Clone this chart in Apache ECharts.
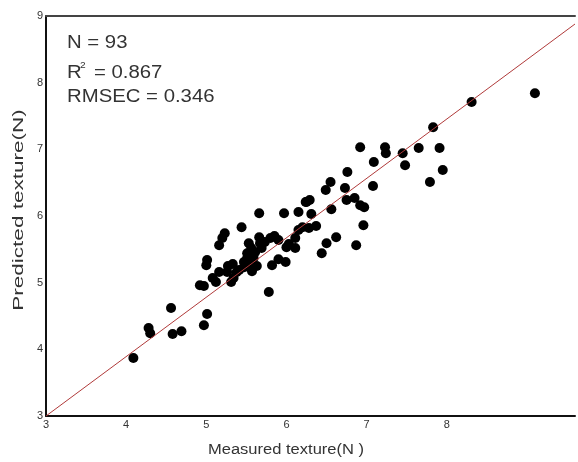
<!DOCTYPE html>
<html>
<head>
<meta charset="utf-8">
<script src="https://cdn.jsdelivr.net/npm/echarts@6/dist/echarts.min.js"></script>
<style>
  html, body { margin: 0; padding: 0; background: #fff; }
  #chart { width: 578px; height: 462px; }
</style>
</head>
<body>
<div id="chart"></div>
<script>
// measured (x) vs predicted (y) texture
var measured = [
  4.09, 4.28, 4.30, 4.56, 4.58, 4.69, 5.01, 4.97, 4.92, 4.97,
  5.12, 5.01, 5.00, 5.16, 5.27, 5.16, 5.20, 5.23, 5.44, 5.66,
  5.97, 6.15, 6.24, 5.53, 5.56, 5.51, 5.66, 5.67, 5.80, 5.90,
  5.41, 5.47, 5.56, 5.59, 5.31, 5.34, 5.57, 5.78, 5.82, 5.90,
  5.99, 6.00, 6.11, 6.11, 6.31, 6.20, 6.28, 6.37, 6.62, 6.50,
  6.44, 6.87, 6.29, 6.55, 6.49, 6.73, 6.75, 6.85, 6.92, 6.97,
  6.56, 6.96, 6.76, 7.08, 7.09, 6.92, 7.23, 7.24, 7.45, 7.48,
  7.65, 7.91, 7.95, 7.79, 7.83, 8.31, 9.10, 6.25, 5.47, 5.51,
  5.53, 5.38, 5.61, 5.69, 5.26, 5.73, 5.85, 5.63, 6.03, 5.33,
  6.15, 5.08, 5.57
];
var predicted = [
  3.87, 4.32, 4.24, 4.62, 4.23, 4.27, 4.53, 4.36, 4.96, 4.95,
  5.01, 5.34, 5.26, 5.16, 5.25, 5.56, 5.67, 5.74, 5.83, 6.04,
  6.04, 6.06, 6.21, 5.59, 5.52, 5.44, 5.68, 5.59, 5.67, 5.64,
  5.19, 5.23, 5.29, 5.37, 5.01, 5.07, 5.17, 4.86, 5.26, 5.35,
  5.31, 5.53, 5.52, 5.67, 6.03, 5.83, 5.82, 5.85, 5.68, 5.59,
  5.44, 5.56, 6.24, 6.51, 6.39, 6.42, 6.24, 6.27, 6.16, 6.13,
  6.10, 5.86, 6.66, 6.45, 6.81, 7.03, 7.03, 6.94, 6.94, 6.76,
  7.02, 7.02, 6.69, 6.51, 7.33, 7.71, 7.84, 6.21, 5.31, 5.37,
  5.25, 5.16, 5.46, 5.52, 5.16, 5.61, 5.70, 5.25, 5.58, 5.28,
  5.79, 5.07, 5.40
];
// fitted line end points
var fitX = [3, 9.6];
var fitY = [3, 8.88];
var xTicks = [3, 4, 5, 6, 7, 8];

var points = measured.map(function (v, i) { return [v, predicted[i]]; });
var fitLine = fitX.map(function (v, i) { return [v, fitY[i]]; });

var font = "'Liberation Sans', Arial, sans-serif";
var chart = echarts.init(document.getElementById('chart'));
chart.setOption({
  animation: false,
  grid: { left: 46, right: 0, top: 16, bottom: 46 },
  xAxis: [
    {
      type: 'value', min: 3, max: 9.6, interval: 1,
      axisLine: { show: true, lineStyle: { color: '#111', width: 2 } },
      axisTick: { show: false },
      splitLine: { show: false },
      axisLabel: {
        color: '#333', fontSize: 11, fontFamily: font, margin: 3,
        formatter: function (v) { return xTicks.indexOf(v) >= 0 ? String(v) : ''; }
      }
    },
    {
      type: 'value', position: 'top', min: 3, max: 9.6,
      axisLine: { show: true, onZero: false, lineStyle: { color: '#444', width: 2 } },
      axisTick: { show: false }, axisLabel: { show: false }, splitLine: { show: false }
    }
  ],
  yAxis: {
    type: 'value', min: 3, max: 9, interval: 1,
    axisLine: { show: true, lineStyle: { color: '#111', width: 2 } },
    axisTick: { show: false },
    splitLine: { show: false },
    axisLabel: { color: '#333', fontSize: 11, fontFamily: font, margin: 3 }
  },
  series: [
    {
      type: 'line', data: fitLine, symbol: 'none', silent: true,
      lineStyle: { color: '#b03a3a', width: 1 }, z: 3
    },
    {
      type: 'scatter', data: points, symbol: 'circle', symbolSize: 10,
      itemStyle: { color: '#000', opacity: 1 }, z: 2
    }
  ],
  graphic: [
    { type: 'text', x: 67, y: 43, scaleX: 1.13,
      style: { text: 'N = 93', font: '18px ' + font, fill: '#333', textVerticalAlign: 'middle' } },
    { type: 'text', x: 67, y: 73, scaleX: 1.13,
      style: { text: 'R', font: '18px ' + font, fill: '#333', textVerticalAlign: 'middle' } },
    { type: 'text', x: 80, y: 66, scaleX: 1.13,
      style: { text: '2', font: '9px ' + font, fill: '#333', textVerticalAlign: 'middle' } },
    { type: 'text', x: 94, y: 73, scaleX: 1.13,
      style: { text: '= 0.867', font: '18px ' + font, fill: '#333', textVerticalAlign: 'middle' } },
    { type: 'text', x: 67, y: 97, scaleX: 1.13,
      style: { text: 'RMSEC = 0.346', font: '18px ' + font, fill: '#333', textVerticalAlign: 'middle' } },
    // axis titles
    { type: 'text', x: 19, y: 210, rotation: Math.PI / 2, scaleX: 1.5,
      style: { text: 'Predicted texture(N)', font: '15px ' + font, fill: '#333',
        textAlign: 'center', textVerticalAlign: 'middle' } },
    { type: 'text', x: 286, y: 450, scaleX: 1.18,
      style: { text: 'Measured texture(N )', font: '14px ' + font, fill: '#333',
        textAlign: 'center', textVerticalAlign: 'middle' } }
  ]
});
</script>
</body>
</html>
